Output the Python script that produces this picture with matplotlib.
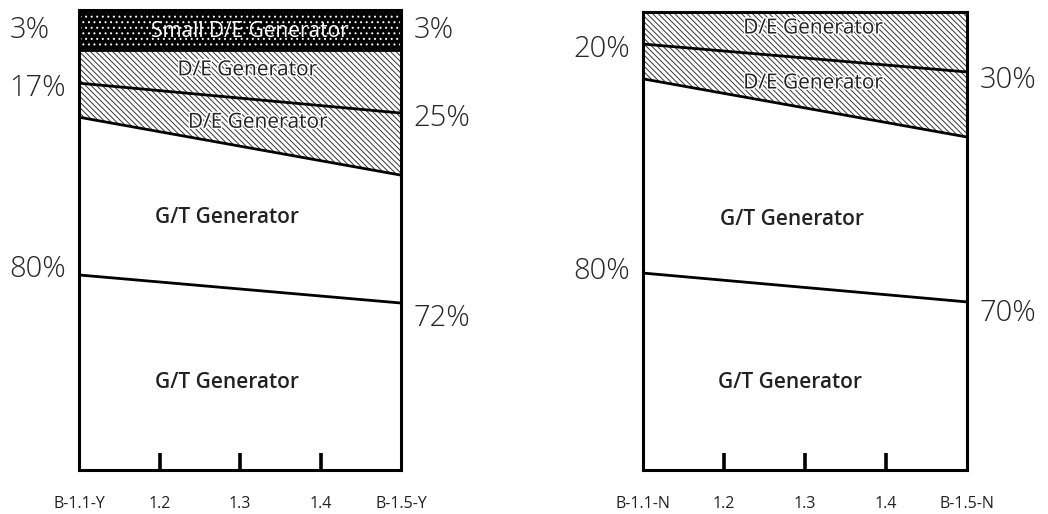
import matplotlib.pyplot as plt
import matplotlib.patheffects as pe

plt.rcParams['font.family'] = ['Open Sans', 'DejaVu Sans']
plt.rcParams['hatch.linewidth'] = 0.7

# x positions (scenario steps)
x = [1.1, 1.5]
tick_pos = [1.1, 1.2, 1.3, 1.4, 1.5]
labels_y = ['B-1.1-Y', '1.2', '1.3', '1.4', 'B-1.5-Y']
labels_n = ['B-1.1-N', '1.2', '1.3', '1.4', 'B-1.5-N']

# schematic boundary heights (0 = bottom, 100 = top)
# left panel (Y)
y_small_de = [91.3, 91.3]
y_de_split = [84.1, 77.6]
y_gt_top = [76.7, 64.1]
y_gt_split = [42.4, 36.3]
# right panel (N)
n_de_split = [93.0, 86.9]
n_gt_top = [85.4, 72.7]
n_gt_split = [43.0, 36.7]

# share labels
pct_left_y = ['3%', '17%', '80%']
pct_right_y = ['3%', '25%', '72%']
pct_left_n = ['20%', '80%']
pct_right_n = ['30%', '70%']

fig = plt.figure(figsize=(10.48, 5.14), dpi=100)
ax1 = fig.add_axes([0.0754, 0.0856, 0.3073, 0.8949])
ax2 = fig.add_axes([0.6135, 0.0856, 0.3092, 0.8911])

hatch_de = '\\' * 6


def style_axes(ax, tlabels):
    ax.set_xlim(1.1, 1.5)
    ax.set_ylim(0, 100)
    ax.set_yticks([])
    ax.set_xticks(tick_pos)
    ax.set_xticklabels(tlabels, fontsize=11.5, color='#222222')
    ax.tick_params(axis='x', direction='in', length=12, width=2.6, color='black', pad=19)
    ticks = ax.xaxis.get_major_ticks()
    ticks[0].tick1line.set_visible(False)
    ticks[-1].tick1line.set_visible(False)
    for s in ax.spines.values():
        s.set_linewidth(2.2)
        s.set_color('black')


def region_text(ax, xx, yy, s, bold=False):
    t = ax.text(xx, yy, s, ha='center', va='center', fontsize=15, color='#222222',
                fontweight='semibold' if bold else 'normal')
    if not bold:
        t.set_path_effects([pe.withStroke(linewidth=2, foreground='white')])
    return t


def pct(ax, s, side, ydata, dy):
    if side == 'left':
        ax.annotate(s, (1.1, ydata), xytext=(-50, dy), textcoords='offset points',
                    ha='left', va='center', fontsize=21, color='#262626',
                    fontweight='light', annotation_clip=False)
    else:
        ax.annotate(s, (1.5, ydata), xytext=(9, dy), textcoords='offset points',
                    ha='left', va='center', fontsize=21, color='#262626',
                    fontweight='light', annotation_clip=False)


# ---- left panel ----
ax = ax1
ax.fill_between(x, y_small_de, [100, 100], facecolor='black', edgecolor='white', hatch='...', linewidth=0)
ax.fill_between(x, y_de_split, y_small_de, facecolor='white', edgecolor='#333333', hatch=hatch_de, linewidth=0)
ax.fill_between(x, y_gt_top, y_de_split, facecolor='white', edgecolor='#333333', hatch=hatch_de, linewidth=0)
ax.plot(x, y_small_de, color='black', lw=2)
ax.plot(x, y_de_split, color='black', lw=2)
ax.plot(x, y_gt_top, color='black', lw=2)
ax.plot(x, y_gt_split, color='black', lw=2)
style_axes(ax, labels_y)

ax.text(1.312, 95.4, 'Small D/E Generator', ha='center', va='center', fontsize=15,
        color='white', fontweight='normal')
region_text(ax, 1.309, 87.0, 'D/E Generator')
region_text(ax, 1.322, 75.6, 'D/E Generator')
region_text(ax, 1.284, 54.8, 'G/T Generator', bold=True)
region_text(ax, 1.284, 19.1, 'G/T Generator', bold=True)

pct(ax, pct_left_y[0], 'left', 95.6, 0)
pct(ax, pct_left_y[1], 'left', y_de_split[0], -4)
pct(ax, pct_left_y[2], 'left', y_gt_split[0], 4)
pct(ax, pct_right_y[0], 'right', 95.6, 0)
pct(ax, pct_right_y[1], 'right', y_gt_top[1] + 13.5, -4)
pct(ax, pct_right_y[2], 'right', y_gt_split[1], -11)

# ---- right panel ----
ax = ax2
ax.fill_between(x, n_de_split, [100, 100], facecolor='white', edgecolor='#333333', hatch=hatch_de, linewidth=0)
ax.fill_between(x, n_gt_top, n_de_split, facecolor='white', edgecolor='#333333', hatch=hatch_de, linewidth=0)
ax.plot(x, n_de_split, color='black', lw=2)
ax.plot(x, n_gt_top, color='black', lw=2)
ax.plot(x, n_gt_split, color='black', lw=2)
style_axes(ax, labels_n)

region_text(ax, 1.31, 96.5, 'D/E Generator')
region_text(ax, 1.31, 84.5, 'D/E Generator')
region_text(ax, 1.284, 54.6, 'G/T Generator', bold=True)
region_text(ax, 1.281, 19.2, 'G/T Generator', bold=True)

pct(ax, pct_left_n[0], 'left', n_de_split[0], -4)
pct(ax, pct_left_n[1], 'left', n_gt_split[0], 1)
pct(ax, pct_right_n[0], 'right', n_de_split[1], -6)
pct(ax, pct_right_n[1], 'right', n_gt_split[1], -8)

fig.savefig('out.png', dpi=100)
